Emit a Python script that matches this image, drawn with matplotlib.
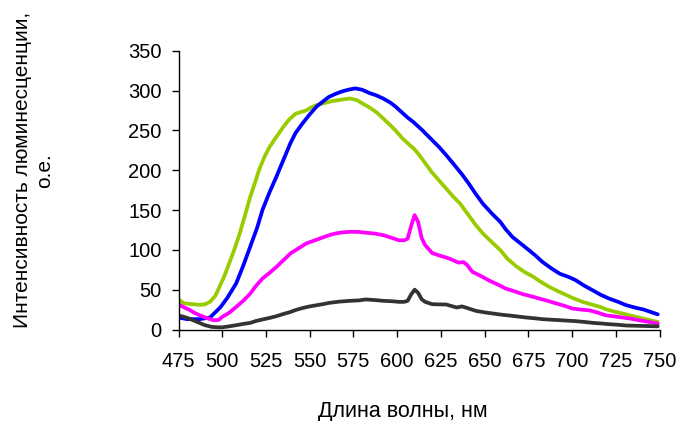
import matplotlib
matplotlib.use("Agg")
import matplotlib.pyplot as plt

plt.rcParams['font.family'] = ['Liberation Sans', 'DejaVu Sans']

# spectra (wavelength nm, intensity a.u.)
blue_x = [475, 480, 487, 493, 499, 503, 508, 512, 516, 520, 523, 527, 531, 535, 539, 542, 546, 550, 554,
          558, 561, 565, 568, 572, 576, 580, 584, 588, 592, 596, 599, 603, 606, 609, 614, 619, 624, 628,
          632, 637, 641, 645, 649, 654, 659, 662, 666, 670, 674, 679, 683, 688, 693, 698, 702, 707, 712,
          716, 721, 726, 731, 736, 741, 745, 749]
blue_y = [15, 13, 13, 15, 28, 40, 58, 80, 104, 128, 150, 172, 192, 213, 234, 247, 259, 270, 280,
          287, 292, 296, 298.5, 301, 302.7, 301, 297, 294, 290, 285, 280, 272, 266, 261, 251, 240, 229, 219,
          208.5, 195, 183, 170, 158, 146, 135, 126, 116, 109, 102, 93, 85, 77, 70, 66, 62, 55, 49,
          44, 39, 35, 30.5, 27.5, 25, 22, 19]

green_x = [475, 478, 482, 487, 490, 493, 496, 498, 501, 504, 507, 510, 513, 516, 519, 521, 524, 527,
           531, 535, 538, 542, 545, 548, 551, 554, 558, 563, 568, 573, 577, 580, 584, 588, 592, 596, 599,
           603, 607, 610, 613, 617, 620, 624, 628, 632, 636, 641, 645, 649, 654, 659, 663, 668, 673, 678,
           682, 687, 692, 697, 701, 706, 711, 716, 720, 725, 730, 735, 740, 745, 749]
green_y = [37.7, 33, 32, 31, 31.5, 34.7, 42, 51.5, 66, 83, 101, 120.6, 143, 166.6, 186, 200, 216, 229,
           242, 254.5, 263, 271, 273, 275, 279, 281.8, 284, 286.8, 288.5, 290, 288, 284, 279, 273, 265, 256.7, 250,
           240, 232, 226, 218, 206, 197, 187, 177, 167, 158, 143, 131, 120.6, 110, 99.6, 89, 79.5, 72, 66,
           60, 53.5, 48, 43, 39, 34.7, 31.5, 28.4, 25, 22, 19.5, 16.7, 14, 11.5, 9.5]

magenta_x = [475, 478, 481, 484, 487, 491, 495, 498, 500, 504, 508, 512, 516, 519, 523, 527, 531, 535,
             539, 543, 548, 553, 558, 562, 565, 569, 573, 578, 582, 587, 592, 597, 601, 604, 606, 608,
             610, 612, 614, 616, 618, 620, 624, 628, 631, 635, 638, 640, 643, 648, 653, 658, 662, 667,
             672, 677, 681, 686, 691, 696, 700, 705, 710, 715, 719, 724, 729, 734, 738, 744, 749]
magenta_y = [31.4, 28, 25, 21, 18, 14.5, 11.7, 12, 15.8, 21, 28.4, 36, 45, 54, 64, 71, 78.6, 87,
             95.5, 101, 108, 112, 116, 119, 120.6, 122, 122.6, 122.5, 121.5, 120.5, 118.5, 115, 112, 112, 114, 130,
             143.6, 135, 115, 106, 101, 96, 93, 90.4, 88, 84, 84.5, 81, 72.4, 67, 61, 56, 51.5, 48,
             44.3, 41.5, 39, 36, 32.7, 29.5, 26.4, 25, 24, 21, 18, 16.5, 15, 13.5, 11.7, 9.5, 7.5]

black_x = [475, 478, 481, 484, 487, 490, 494, 497, 500, 504, 508, 512, 516, 519, 523, 527, 531, 535,
           539, 542, 546, 550, 554, 558, 561, 567, 573, 578, 582, 587, 592, 597, 601, 604, 606, 608,
           610, 612, 614, 616, 620, 624, 628, 631, 634, 637, 640, 645, 650, 655, 660, 664, 669, 674, 679,
           683, 688, 693, 698, 702, 707, 712, 717, 721, 726, 731, 736, 740, 745, 749]
black_y = [17.6, 16, 13.8, 11, 8.3, 5.5, 3.3, 2.8, 2.7, 4, 5.4, 7, 8.3, 10.5, 12.6, 14.5, 16.7, 19.5,
           22, 24.5, 27, 29, 30.5, 32, 33.4, 35, 36, 36.5, 37.7, 37, 36, 35.5, 34.7, 34.7, 36, 44,
           50, 46, 38, 34.7, 31.8, 31.5, 31.4, 29.5, 27.6, 29, 27, 23.4, 21.5, 20, 18.5, 17.6, 16.3, 15, 14,
           13, 12.3, 11.7, 11, 10.5, 9.5, 8.3, 7.5, 6.7, 6, 5, 4.7, 4.5, 4.2, 4]

series = [
    (green_x, green_y, "#99CC00"),
    (blue_x, blue_y, "#0000FF"),
    (magenta_x, magenta_y, "#FF00FF"),
    (black_x, black_y, "#333333"),
]

x_ticks = list(range(475, 751, 25))
y_ticks = list(range(0, 351, 50))

fig = plt.figure(figsize=(6.8, 4.21), dpi=100)
# axes box measured in pixels from the reference
ax = fig.add_axes([178.5 / 680, 1 - 329.5 / 421, 481 / 680, 278.8 / 421])

for xs, ys, color in series:
    ax.plot(xs, ys, color=color, linewidth=2.7, solid_capstyle="round", solid_joinstyle="round")

ax.set_xlim(475, 750)
ax.set_ylim(0, 350)
ax.set_xticks(x_ticks)
ax.set_yticks(y_ticks)
ax.tick_params(direction="out", length=5, width=1, labelsize=14.5, colors="black")
ax.tick_params(axis="x", pad=11)
ax.tick_params(axis="y", pad=7)
for side in ("top", "right"):
    ax.spines[side].set_visible(False)
for side in ("left", "bottom"):
    ax.spines[side].set_linewidth(1)
    ax.spines[side].set_color("black")

ax.set_xlabel("Длина волны, нм", fontsize=15.5)
ax.xaxis.set_label_coords(0.466, -0.255)
ax.set_ylabel("Интенсивность люминесценции,\nо.е.", fontsize=15, linespacing=1.2)
ax.yaxis.set_label_coords(-0.258, 0.571)

fig.savefig("out.png", dpi=100)
